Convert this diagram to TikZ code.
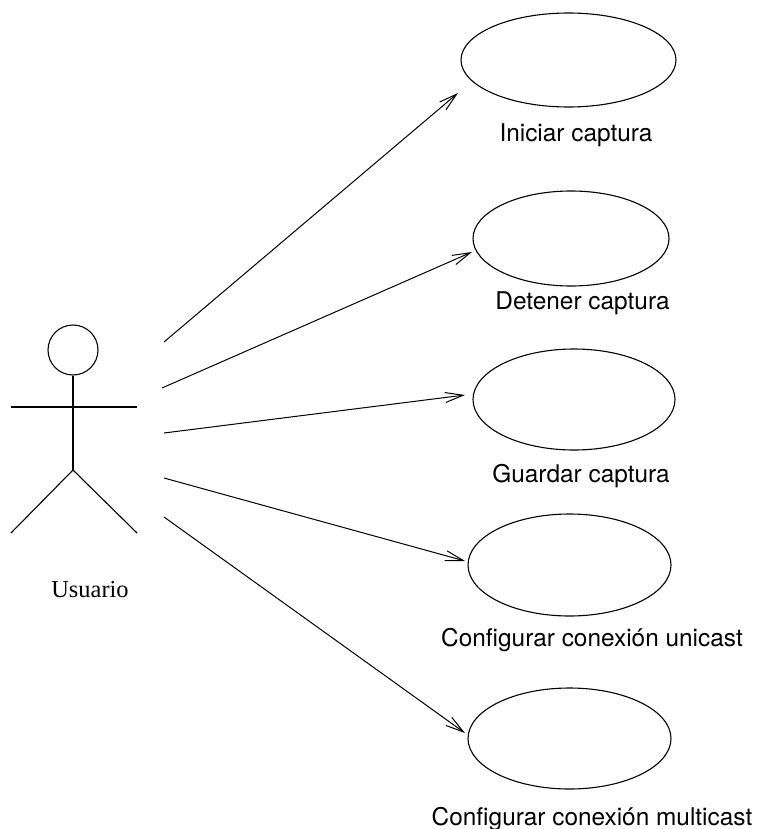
\documentclass[tikz,border=0pt]{standalone}
\usepackage{fontspec}
\newfontfamily\ucfont{TeX Gyre Heros}
\newfontfamily\actorfont{Liberation Serif}
\usepackage{tikz}
\usetikzlibrary{arrows.meta,shapes.geometric}

\begin{document}
\begin{tikzpicture}[
    x=0.5pt, y=-0.5pt,
    line width=0.55pt,
    usecase/.style={draw, ellipse, inner sep=0pt, minimum width=#1, minimum height=50.5pt},
    usecase/.default=101.5pt,
    lab/.style={font=\ucfont\fontsize{12.2}{14}\selectfont, inner sep=0pt},
    actorlab/.style={font=\actorfont\fontsize{12.2}{14}\selectfont, inner sep=0pt},
    assoc/.style={-{Straight Barb[length=9pt,width=5pt,line width=0.5pt]}, line width=0.5pt}
  ]
    \useasboundingbox (0,0) rectangle (762,829);

    % actor
    \node[draw, circle, inner sep=0pt, minimum size=25pt] (head) at (73,350) {};
    \coordinate (hip) at (73,470);
    \draw (head.south) -- (hip);
    \draw (11,407) -- (137,407);
    \draw (11,533) -- (hip) -- (137,533);
    \node[actorlab] (user) at (90,590) {Usuario};

    % use cases
    \node[usecase=107.5pt, minimum height=47pt] (uc1) at (568.5,60) {};
    \node[usecase=98pt, minimum height=47.5pt] (uc2) at (571,238.5) {};
    \node[usecase=101pt] (uc3) at (574,399.5) {};
    \node[usecase, minimum height=51pt] (uc4) at (569.5,565) {};
    \node[usecase] (uc5) at (569.5,738.5) {};

    \node[lab] (l1) at (576,135) {Iniciar captura};
    \node[lab] (l2) at (582.5,303) {Detener captura};
    \node[lab] (l3) at (581,476) {Guardar captura};
    \node[lab] (l4) at (592,640) {Configurar conexión unicast};
    \node[lab] (l5) at (592,819) {Configurar conexión multicast};

    % associations
    \coordinate (s1) at (164,342);
    \coordinate (s2) at (162,388);
    \coordinate (s3) at (164,433);
    \coordinate (s4) at (164,478);
    \coordinate (s5) at (164,517);
    \coordinate (t1) at (458,93);
    \coordinate (t2) at (472,252);
    \coordinate (t3) at (465,395);
    \coordinate (t4) at (465,561);
    \coordinate (t5) at (465,733);
    \foreach \i in {1,...,5} {
      \draw[assoc] (s\i) -- (t\i);
    }
  \end{tikzpicture}
\end{document}
